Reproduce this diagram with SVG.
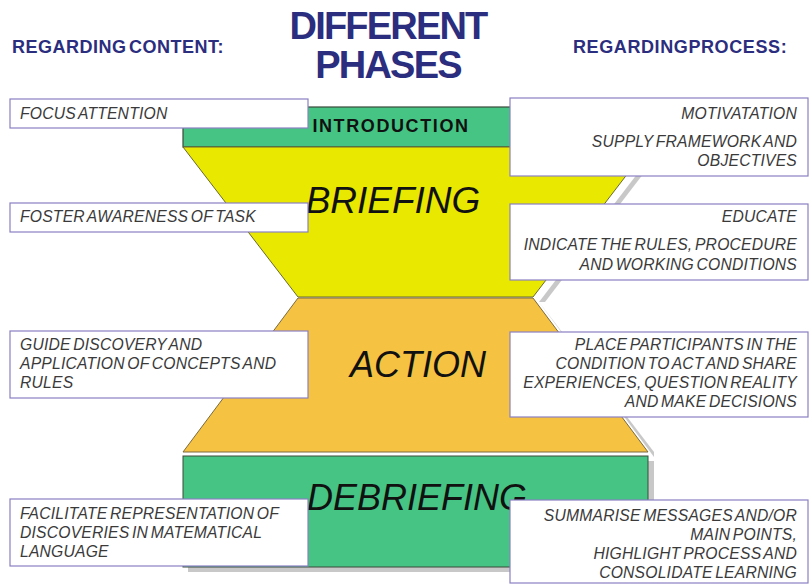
<svg xmlns="http://www.w3.org/2000/svg" width="810" height="585" viewBox="0 0 810 585">
  <defs>
    <style>
      .head { font-family: "Liberation Sans", Arial, sans-serif; font-weight: bold; fill: #2b2d7e; }
      .phase { font-family: "Liberation Sans", Arial, sans-serif; font-style: italic; fill: #111; }
      .note rect { fill: #ffffff; stroke: #8a80c4; stroke-width: 1.2; }
      .note text { font-family: "Liberation Sans", Arial, sans-serif; font-style: italic; font-size: 15.7px; fill: #3a3a3a; letter-spacing: 0.2px; word-spacing: -2px; }
      .r text { text-anchor: end; }
      .shadow { fill: #9a9a9a; opacity: 0.55; }
    </style>
  </defs>

  <rect width="810" height="585" fill="#ffffff"/>

  <!-- headings -->
  <g id="title">
    <text class="head" x="388" y="39" font-size="38" letter-spacing="-1.8" text-anchor="middle">DIFFERENT</text>
    <text class="head" x="388" y="78" font-size="38" letter-spacing="-1.8" text-anchor="middle">PHASES</text>
  </g>
  <g id="heading-content">
    <text class="head" x="12" y="53" font-size="18" letter-spacing="0.5" word-spacing="-3">REGARDING CONTENT:</text>
  </g>
  <g id="heading-process">
    <text class="head" x="573" y="53" font-size="18" letter-spacing="0.6">REGARDINGPROCESS:</text>
  </g>

  <!-- phase shapes -->
  <g id="introduction">
    <rect x="183" y="107" width="465" height="40" fill="#46c483" stroke="#3a4a3a" stroke-width="1.2"/>
    <text x="391" y="132" font-family="Liberation Sans, Arial, sans-serif" font-weight="bold" font-size="18" letter-spacing="1.6" fill="#111" text-anchor="middle">INTRODUCTION</text>
  </g>
  <g id="briefing">
    <polygon class="shadow" points="654,152 539,302 545,302 660,152"/>
    <polygon points="183,147 648,147 533,297 298,297" fill="#e8e800" stroke="#6a6a30" stroke-width="1"/>
    <text class="phase" x="393" y="213" font-size="37" text-anchor="middle">BRIEFING</text>
  </g>
  <g id="action">
    <polygon class="shadow" points="539,302 654,457 654,452"/>
    <polygon points="298,298 533,298 648,452 183,452" fill="#f5c242" stroke="#7a6a40" stroke-width="1"/>
    <text class="phase" x="418" y="377" font-size="36" text-anchor="middle">ACTION</text>
  </g>
  <g id="debriefing">
    <rect class="shadow" x="188" y="461" width="466" height="111"/>
    <rect x="183" y="456" width="465" height="111" fill="#46c483" stroke="#3a4a3a" stroke-width="1"/>
    <text class="phase" x="417" y="510" font-size="36" text-anchor="middle">DEBRIEFING</text>
  </g>

  <!-- content notes (left) -->
  <g id="note-focus" class="note">
    <rect x="10" y="99" width="298" height="29"/>
    <text x="20" y="119">FOCUS ATTENTION</text>
  </g>
  <g id="note-foster" class="note">
    <rect x="10" y="203" width="298" height="29"/>
    <text x="20" y="222">FOSTER AWARENESS OF TASK</text>
  </g>
  <g id="note-guide" class="note">
    <rect x="10" y="331" width="298" height="67"/>
    <text x="20" y="350">GUIDE DISCOVERY AND</text>
    <text x="20" y="369">APPLICATION OF CONCEPTS AND</text>
    <text x="20" y="388">RULES</text>
  </g>
  <g id="note-facilitate" class="note">
    <rect x="10" y="499" width="298" height="67"/>
    <text x="20" y="519">FACILITATE REPRESENTATION OF</text>
    <text x="20" y="538">DISCOVERIES IN MATEMATICAL</text>
    <text x="20" y="557">LANGUAGE</text>
  </g>

  <!-- process notes (right) -->
  <g id="note-motivation" class="note r">
    <rect x="510" y="98" width="298" height="78"/>
    <text x="797" y="119">MOTIVATATION</text>
    <text x="797" y="147">SUPPLY FRAMEWORK AND</text>
    <text x="797" y="166">OBJECTIVES</text>
  </g>
  <g id="note-educate" class="note r">
    <rect x="510" y="204" width="298" height="76"/>
    <text x="797" y="222">EDUCATE</text>
    <text x="797" y="250">INDICATE THE RULES, PROCEDURE</text>
    <text x="797" y="270">AND WORKING CONDITIONS</text>
  </g>
  <g id="note-place" class="note r">
    <rect x="510" y="332" width="298" height="85"/>
    <text x="797" y="350">PLACE PARTICIPANTS IN THE</text>
    <text x="797" y="369">CONDITION TO ACT AND SHARE</text>
    <text x="797" y="388">EXPERIENCES, QUESTION REALITY</text>
    <text x="797" y="407">AND MAKE DECISIONS</text>
  </g>
  <g id="note-summarise" class="note r">
    <rect x="510" y="500" width="298" height="83"/>
    <text x="797" y="521">SUMMARISE MESSAGES AND/OR</text>
    <text x="797" y="540">MAIN POINTS,</text>
    <text x="797" y="559">HIGHLIGHT PROCESS AND</text>
    <text x="797" y="578">CONSOLIDATE LEARNING</text>
  </g>

  <!-- no connectors in this diagram -->
  <g id="connectors"/>
</svg>
